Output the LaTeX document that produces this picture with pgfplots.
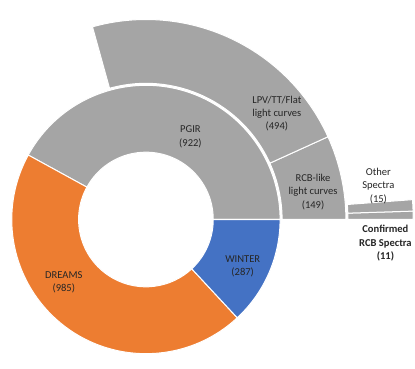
\documentclass[border=0pt]{standalone}
\usepackage{fontspec}
\setmainfont{Carlito}
\usepackage{pgfplots}
\usepackage{pgfplotstable}
\pgfplotsset{compat=1.18}
\definecolor{pgray}{HTML}{A5A5A5}
\definecolor{porange}{HTML}{ED7D31}
\definecolor{pblue}{HTML}{4472C4}
\definecolor{ptext}{HTML}{262626}

% counts per ring, counter-clockwise from 3 o'clock
\pgfplotstableread{
name value color
PGIR 922 pgray
DREAMS 985 porange
WINTER 287 pblue
}\ringone
\pgfplotstableread{
name value color
RCBlike 149 pgray
LPV 494 pgray
}\ringtwo
\pgfplotstableread{
name value color
Confirmed 11 pgray
Other 15 pgray
}\ringthree

% total of the inner ring = full circle
\def\total{0}
\pgfplotstablegetrowsof{\ringone}
\pgfmathtruncatemacro\nrows{\pgfplotsretval-1}
\pgfplotsforeachungrouped \i in {0,...,\nrows}{%
  \pgfplotstablegetelem{\i}{value}\of\ringone
  \pgfmathsetmacro\total{\total+\pgfplotsretval}%
}

% #1 table, #2 inner radius, #3 outer radius
\newcommand\drawring[3]{%
  \def\cum{0}%
  \pgfplotstablegetrowsof{#1}%
  \pgfmathtruncatemacro\nrows{\pgfplotsretval-1}%
  \pgfplotsforeachungrouped \i in {0,...,\nrows}{%
    \pgfplotstablegetelem{\i}{value}\of#1\let\val\pgfplotsretval
    \pgfplotstablegetelem{\i}{color}\of#1\let\col\pgfplotsretval
    \pgfmathsetmacro\sa{\cum/\total*360}%
    \pgfmathsetmacro\cum{\cum+\val}%
    \pgfmathsetmacro\se{\cum/\total*360}%
    \edef\temp{\noexpand\fill[\col, draw=white, line width=1pt,
      shift={(axis cs:141.7,138.7)}]
      (\sa:#2pt) arc[start angle=\sa, end angle=\se, radius=#2pt]
      -- (\se:#3pt) arc[start angle=\se, end angle=\sa, radius=#3pt] -- cycle;}%
    \temp
  }%
}

\begin{document}
\begin{tikzpicture}
\begin{axis}[
    x=1pt, y=1pt,
    xmin=0, xmax=415, ymin=0, ymax=346,
    hide axis, clip=false,
]
\drawring{\ringone}{67}{133.5}
\drawring{\ringtwo}{135.5}{199}
\drawring{\ringthree}{201}{266}

\tikzset{lbl/.style={font=\fontsize{10.5}{13.3}\selectfont, text=ptext, align=center}}
\node[lbl] at (axis cs:186,221) {PGIR\\(922)};
\node[lbl] at (axis cs:60,76) {DREAMS\\(985)};
\node[lbl] at (axis cs:238,92) {WINTER\\(287)};
\node[lbl] at (axis cs:272,244) {LPV/TT/Flat\\light curves\\(494)};
\node[lbl] at (axis cs:308,166) {RCB-like\\light curves\\(149)};
\node[lbl] at (axis cs:373,172) {Other\\Spectra\\(15)};
\node[lbl, font=\fontsize{10.5}{13.3}\selectfont\bfseries] at (axis cs:380,115) {Confirmed\\RCB Spectra\\(11)};
\end{axis}
\end{tikzpicture}
\end{document}
